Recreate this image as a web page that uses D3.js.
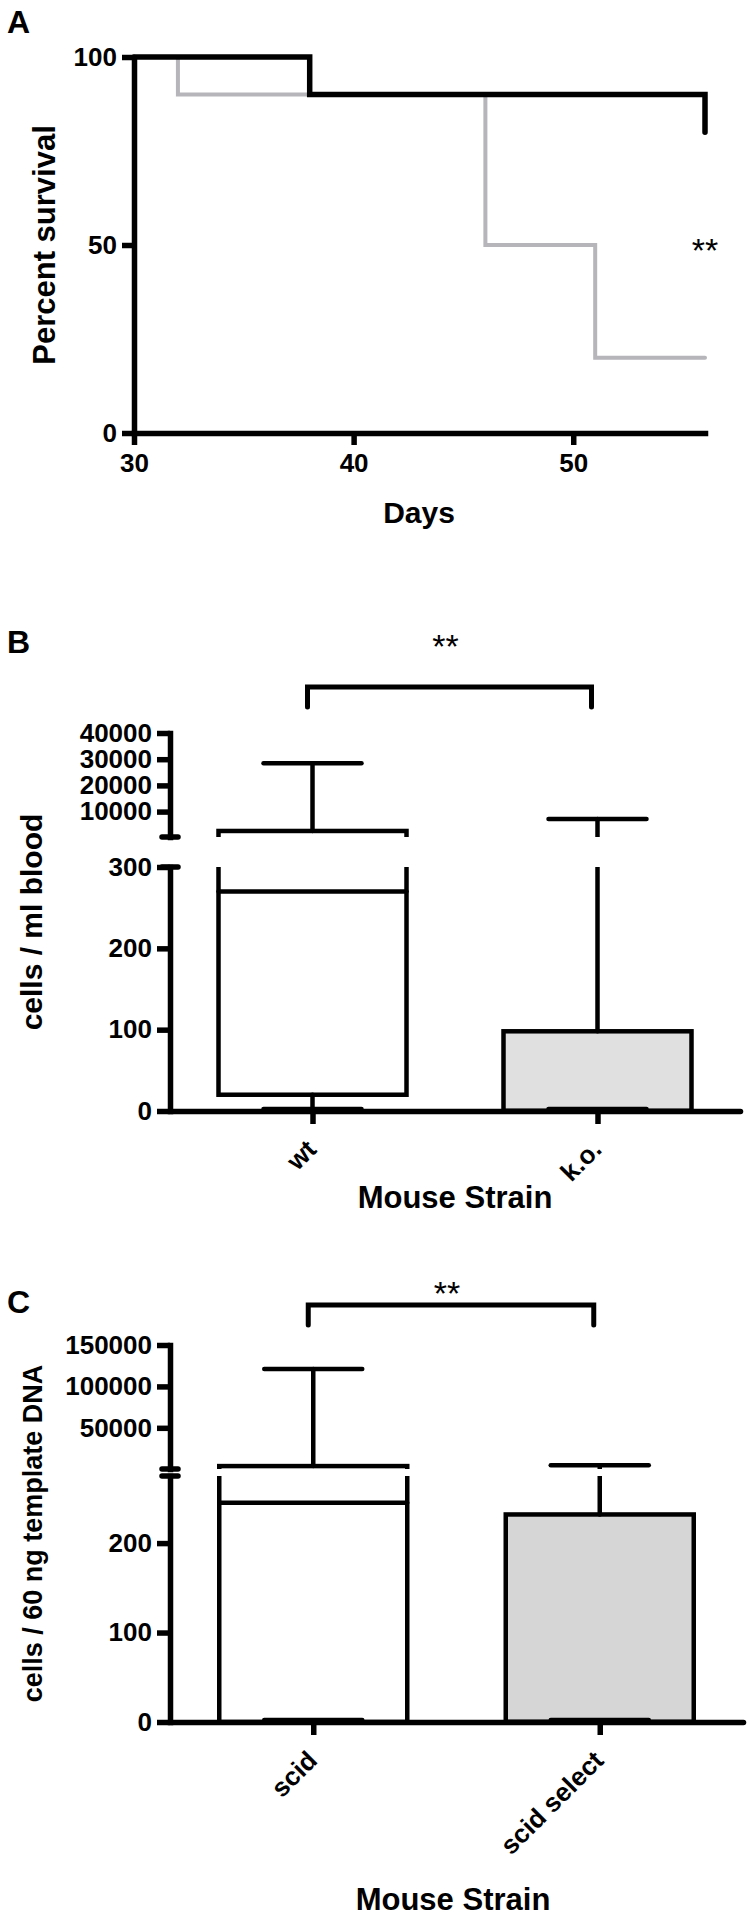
<!DOCTYPE html>
<html>
<head>
<meta charset="utf-8">
<script src="https://cdn.jsdelivr.net/npm/d3@7.9.0/dist/d3.min.js"></script>
<style>
  html, body { margin: 0; padding: 0; background: #fff; }
  svg { display: block; font-family: "Liberation Sans", Arial, sans-serif; }
</style>
</head>
<body>
<svg id="chart" width="750" height="1922"></svg>
<script>
// ---- values ----

// A: percent survival (step curves)
const survivalDaysTicks = [30, 40, 50];
const survivalPctTicks = [0, 50, 100];
const blackDays = [30, 38, 56];
const blackSurvival = [100, 90, 80];
const grayDays = [30, 32, 46, 51, 56];
const graySurvival = [100, 90, 50, 20, 20];

// B: cells / ml blood (box plots, broken axis)
const bloodStrains = ["wt", "k.o."];
const bloodMin = [0, 0];
const bloodQ1 = [20, 0];
const bloodMedian = [270, 0];
const bloodQ3 = [2600, 98];
const bloodMax = [28500, 7200];
const bloodLowerTicks = [0, 100, 200, 300];
const bloodUpperTicks = [10000, 20000, 30000, 40000];
const bloodBreak = 300;
const bloodTop = 40000;

// C: cells / 60 ng template DNA (box plots, broken axis)
const dnaStrains = ["scid", "scid select"];
const dnaMin = [0, 0];
const dnaQ1 = [0, 0];
const dnaMedian = [245, 0];
const dnaQ3 = [3800, 232];
const dnaMax = [121000, 4800];
const dnaLowerTicks = [0, 100, 200];
const dnaUpperTicks = [50000, 100000, 150000];
const dnaBreak = 275;
const dnaTop = 150000;

const svg = d3.select("#chart");
const AXIS_W = 5.5;
const TICK_FONT = 26;
const STAR_FONT = 34;
const plain = d3.format("d");

// common look for every axis
function styleAxis(g) {
    g.select(".domain").attr("stroke-width", AXIS_W).attr("stroke-linecap", "square");
    g.selectAll(".tick line").attr("stroke-width", AXIS_W);
    g.selectAll(".tick text")
        .attr("font-size", TICK_FONT)
        .attr("font-weight", "bold")
        .attr("font-family", "Liberation Sans, Arial, sans-serif");
}

function boldText(x, y, str, size) {
    return svg.append("text")
        .attr("x", x).attr("y", y)
        .attr("font-size", size)
        .attr("font-weight", "bold")
        .text(str);
}

function stars(x, y) {
    svg.append("text")
        .attr("x", x).attr("y", y)
        .attr("text-anchor", "middle")
        .attr("font-size", STAR_FONT)
        .text("**");
}

// **PANEL A**
function drawSurvival() {
    let x = d3.scaleLinear([30, 56], [134, 705]);
    let y = d3.scaleLinear([0, 100], [433, 57]);

    let line = d3.line()
        .x(d => x(d[0]))
        .y(d => y(d[1]))
        .curve(d3.curveStepAfter);

    svg.append("path")
        .datum(d3.zip(grayDays, graySurvival))
        .attr("d", line)
        .attr("fill", "none")
        .attr("stroke", "#b5b5ba")
        .attr("stroke-width", 4)
        .attr("stroke-linecap", "round");

    svg.append("path")
        .datum(d3.zip(blackDays, blackSurvival))
        .attr("d", line)
        .attr("fill", "none")
        .attr("stroke", "#000")
        .attr("stroke-width", 5.5)
        .attr("stroke-linecap", "round");

    let gx = svg.append("g")
        .attr("transform", "translate(0,433)")
        .call(d3.axisBottom(x).tickValues(survivalDaysTicks).tickFormat(plain)
            .tickSize(12).tickSizeOuter(0).tickPadding(9));
    styleAxis(gx);

    let gy = svg.append("g")
        .attr("transform", "translate(134,0)")
        .call(d3.axisLeft(y).tickValues(survivalPctTicks).tickFormat(plain)
            .tickSize(12).tickSizeOuter(0).tickPadding(5));
    styleAxis(gy);
    gy.select(".domain").attr("stroke-linecap", "round");

    boldText(7, 33, "A", 32);
    boldText(419, 523, "Days", 30).attr("text-anchor", "middle");
    boldText(0, 0, "Percent survival", 31)
        .attr("text-anchor", "middle")
        .attr("transform", "translate(55,245) rotate(-90)");

    stars(705, 262);
}

// **PANELS B and C: box plots on a broken y axis**
function drawBoxPanel(p) {
    let yLow = d3.scaleLinear([0, p.brk], p.lowerRange);
    let yUp = d3.scaleLinear([p.brk, p.top], p.upperRange);
    let Y = v => v <= p.brk ? yLow(v) : yUp(v);
    let x = d3.scalePoint(p.strains, p.xRange).padding(0.5);
    let fill = d3.scaleOrdinal(p.strains, ["#ffffff", p.fill]);

    let boxW = 188, capW = 98;

    // marks are only drawn inside the two axis segments
    let clip = svg.append("clipPath").attr("id", p.id + "-clip");
    clip.append("rect")
        .attr("x", 0).attr("width", 750)
        .attr("y", p.upperRange[1] - 40)
        .attr("height", p.upperRange[0] - p.upperRange[1] + 40);
    clip.append("rect")
        .attr("x", 0).attr("width", 750)
        .attr("y", p.lowerRange[1])
        .attr("height", p.lowerRange[0] - p.lowerRange[1] + 40);

    let boxes = svg.append("g").attr("clip-path", `url(#${p.id}-clip)`);

    p.strains.forEach((s, i) => {
        let cx = x(s);
        let g = boxes.append("g")
            .attr("stroke", "#000")
            .attr("stroke-width", 4.5)
            .attr("stroke-linecap", "round");

        g.append("rect")
            .attr("x", cx - boxW / 2)
            .attr("y", Y(p.q3[i]))
            .attr("width", boxW)
            .attr("height", Y(p.q1[i]) - Y(p.q3[i]))
            .attr("fill", fill(s));
        g.append("line") // median
            .attr("x1", cx - boxW / 2).attr("x2", cx + boxW / 2)
            .attr("y1", Y(p.median[i])).attr("y2", Y(p.median[i]));
        g.append("line") // upper whisker
            .attr("x1", cx).attr("x2", cx)
            .attr("y1", Y(p.q3[i])).attr("y2", Y(p.max[i]));
        g.append("line")
            .attr("x1", cx - capW / 2).attr("x2", cx + capW / 2)
            .attr("y1", Y(p.max[i])).attr("y2", Y(p.max[i]));
        g.append("line") // lower whisker
            .attr("x1", cx).attr("x2", cx)
            .attr("y1", Y(p.q1[i])).attr("y2", Y(p.min[i]));
        g.append("line")
            .attr("x1", cx - capW / 2).attr("x2", cx + capW / 2)
            .attr("y1", Y(p.min[i]) - 2).attr("y2", Y(p.min[i]) - 2);
    });

    // y axis, two segments
    let gLow = svg.append("g")
        .attr("transform", `translate(${p.axisX},0)`)
        .call(d3.axisLeft(yLow).tickValues(p.lowerTicks).tickFormat(plain)
            .tickSize(13).tickSizeOuter(0).tickPadding(5));
    styleAxis(gLow);
    let gUp = svg.append("g")
        .attr("transform", `translate(${p.axisX},0)`)
        .call(d3.axisLeft(yUp).tickValues(p.upperTicks).tickFormat(plain)
            .tickSize(13).tickSizeOuter(0).tickPadding(5));
    styleAxis(gUp);

    // break marks at the inner ends of both segments
    [p.lowerRange[1], p.upperRange[0]].forEach(by => {
        svg.append("line")
            .attr("x1", p.axisX - 8).attr("x2", p.axisX + 8)
            .attr("y1", by).attr("y2", by)
            .attr("stroke", "#000")
            .attr("stroke-width", AXIS_W)
            .attr("stroke-linecap", "round");
    });

    // x axis with slanted strain names
    let gx = svg.append("g")
        .attr("transform", `translate(0,${p.lowerRange[0]})`)
        .call(d3.axisBottom(x).tickSize(13).tickSizeOuter(0));
    styleAxis(gx);
    gx.select(".domain").attr("stroke-linecap", "round");
    gx.selectAll(".tick text")
        .attr("y", 0).attr("dy", 0)
        .attr("text-anchor", "end")
        .attr("transform", "translate(5,40) rotate(-45)");

    // significance bracket
    let x1 = x(p.strains[0]) - 5, x2 = x(p.strains[1]) - 6;
    svg.append("path")
        .attr("d", `M${x1},${p.bracketY + 20}V${p.bracketY}H${x2}V${p.bracketY + 20}`)
        .attr("fill", "none")
        .attr("stroke", "#000")
        .attr("stroke-width", 5)
        .attr("stroke-linecap", "round");
    stars((x1 + x2) / 2 - 4, p.starY);

    boldText(7, p.letterY, p.letter, 32);
    boldText(p.titleX, p.titleY, "Mouse Strain", 31).attr("text-anchor", "middle");
    boldText(0, 0, p.yLabel, p.yLabelSize)
        .attr("text-anchor", "middle")
        .attr("transform", `translate(${p.yLabelX},${(p.upperRange[1] + p.lowerRange[0]) / 2}) rotate(-90)`);
}

drawSurvival();

drawBoxPanel({
    id: "blood", letter: "B", letterY: 653,
    strains: bloodStrains, min: bloodMin, q1: bloodQ1, median: bloodMedian, q3: bloodQ3, max: bloodMax,
    brk: bloodBreak, top: bloodTop,
    lowerTicks: bloodLowerTicks, upperTicks: bloodUpperTicks,
    axisX: 170, xRange: [170, 740],
    lowerRange: [1111, 867], upperRange: [837, 733],
    fill: "#e0e0e0",
    bracketY: 687, starY: 658,
    titleX: 455, titleY: 1208,
    yLabel: "cells / ml blood", yLabelSize: 30, yLabelX: 42
});

drawBoxPanel({
    id: "dna", letter: "C", letterY: 1313,
    strains: dnaStrains, min: dnaMin, q1: dnaQ1, median: dnaMedian, q3: dnaQ3, max: dnaMax,
    brk: dnaBreak, top: dnaTop,
    lowerTicks: dnaLowerTicks, upperTicks: dnaUpperTicks,
    axisX: 170, xRange: [170, 743],
    lowerRange: [1722, 1476], upperRange: [1469, 1345],
    fill: "#d6d6d6",
    bracketY: 1305, starY: 1305,
    titleX: 453, titleY: 1910,
    yLabel: "cells / 60 ng template DNA", yLabelSize: 27, yLabelX: 42
});
</script>
</body>
</html>
